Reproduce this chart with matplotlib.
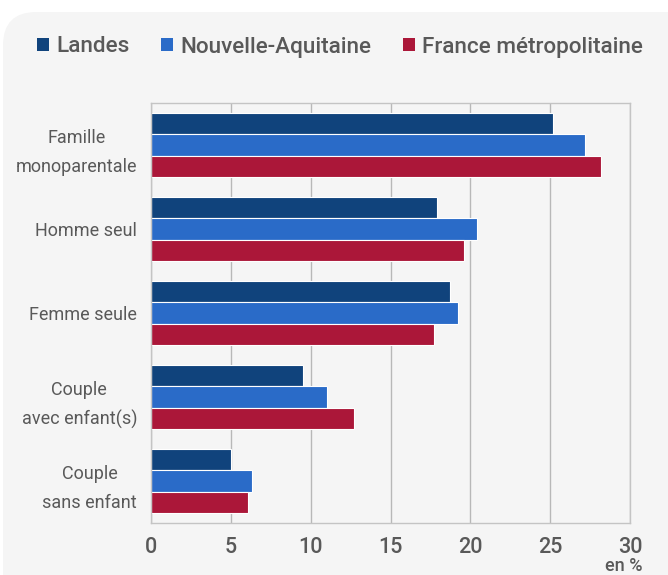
import numpy as np
import matplotlib
matplotlib.use('Agg')
import matplotlib.pyplot as plt
from matplotlib.patches import FancyBboxPatch, Patch

categories = ["Famille\nmonoparentale", "Homme seul", "Femme seule",
              "Couple\navec enfant(s)", "Couple\nsans enfant"]
series = ["Landes", "Nouvelle-Aquitaine", "France métropolitaine"]
landes = [25.2, 17.9, 18.7, 9.5, 5.0]
nouvelle_aquitaine = [27.2, 20.4, 19.2, 11.0, 6.3]
france = [28.2, 19.6, 17.7, 12.7, 6.1]
xticks = [0, 5, 10, 15, 20, 25, 30]

colors = ["#10437c", "#2a6bc8", "#ab1739"]
text_color = "#595959"
bg = "#f5f5f5"

plt.rcParams['font.family'] = ['Roboto', 'DejaVu Sans']

fig = plt.figure(figsize=(6.68, 5.75), dpi=100)
fig.patch.set_facecolor("white")

# rounded light gray panel behind everything
panel = FancyBboxPatch((3 / 668, -0.1), 700 / 668, 1.1 - 12 / 575,
                       boxstyle="round,pad=0,rounding_size=0.05",
                       transform=fig.transFigure, facecolor=bg,
                       edgecolor="none", zorder=-10,
                       mutation_aspect=668 / 575)
fig.add_artist(panel)

ax = fig.add_axes([151 / 668, 1 - 523 / 575, (630 - 151) / 668, (523 - 103) / 575])
ax.set_facecolor(bg)

y = np.arange(len(categories))
h = 0.257
for k, (vals, col) in enumerate(zip([landes, nouvelle_aquitaine, france], colors)):
    ax.barh(y + (k - 1) * h, vals, height=h, color=col, edgecolor="white",
            linewidth=0.8, zorder=2, label=series[k])

ax.set_xlim(0, 30)
ax.set_ylim(len(categories) - 0.5, -0.5)
ax.set_xticks(xticks)
ax.set_xticklabels([str(t) for t in xticks], fontsize=15.5, color=text_color,
                   fontweight="medium")
ax.set_yticks(y)
ax.set_yticklabels(categories, fontsize=13, color=text_color,
                   multialignment="center", linespacing=1.75)
ax.tick_params(axis="x", length=0, pad=10)
ax.tick_params(axis="y", length=0, pad=10)
ax.grid(axis="x", color="#b8b8b8", linewidth=1, zorder=1)
for s in ax.spines.values():
    s.set_color("#c4c4c4")
    s.set_linewidth(1)

fig.text(624 / 668, 1 - 571 / 575, "en %", fontsize=13, color=text_color,
         ha="center", va="baseline", fontweight="medium")

handles = [Patch(facecolor=c, edgecolor="none") for c in colors]
fig.legend(handles, series, loc="center left", bbox_to_anchor=(28 / 668, 1 - 47 / 575),
           ncol=3, frameon=False, labelcolor=text_color,
           prop={"size": 16.2, "weight": "medium"},
           handlelength=0.55, handleheight=0.55, handletextpad=0.3,
           columnspacing=1.4, borderaxespad=0)

fig.savefig("out.png", dpi=100, facecolor="white")
